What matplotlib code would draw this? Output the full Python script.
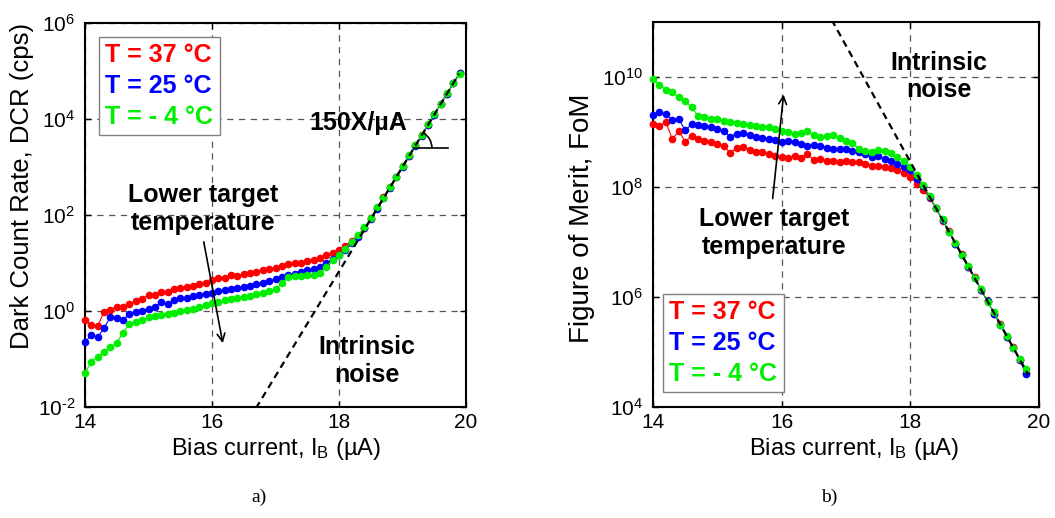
import numpy as np
import matplotlib
matplotlib.use("Agg")
import matplotlib.pyplot as plt
from matplotlib.lines import Line2D
from matplotlib.patches import Arc
from matplotlib.ticker import FuncFormatter, NullLocator
from matplotlib.transforms import ScaledTranslation

plt.rcParams["font.family"] = ["Liberation Sans", "DejaVu Sans"]
plt.rcParams["mathtext.fontset"] = "custom"
plt.rcParams["mathtext.rm"] = "Liberation Sans"
plt.rcParams["mathtext.it"] = "Liberation Sans:italic"
plt.rcParams["mathtext.bf"] = "Liberation Sans:bold"
plt.rcParams["axes.unicode_minus"] = False
plt.rcParams["lines.scale_dashes"] = False

# ---- data -------------------------------------------------------------
labels = ["T = 37 °C", "T = 25 °C", "T = - 4 °C"]
colors = ["#ff0000", "#0000ff", "#00ee00"]

# bias sweep (uA)
bias_dcr = np.round(np.arange(14.0, 19.95, 0.1), 2)
bias_fom = np.round(np.arange(14.0, 19.85, 0.1), 2)

# log10 of dark count rate (cps)
dcr_log_37 = [-0.19, -0.30, -0.31, -0.02, 0.03, 0.08, 0.09, 0.14, 0.21, 0.26,
              0.33, 0.34, 0.39, 0.40, 0.45, 0.47, 0.51, 0.53, 0.57, 0.59,
              0.64, 0.68, 0.69, 0.74, 0.72, 0.77, 0.80, 0.82, 0.86, 0.87,
              0.90, 0.93, 0.97, 0.99, 1.01, 1.05, 1.07, 1.11, 1.16, 1.21,
              1.27, 1.35, 1.45, 1.57, 1.73, 1.93, 2.15, 2.37, 2.58, 2.80,
              3.02, 3.23, 3.45, 3.67, 3.88, 4.10, 4.32, 4.53, 4.75, 4.96]
dcr_log_25 = [-0.65, -0.50, -0.55, -0.35, -0.13, -0.15, -0.19, -0.06, -0.02, 0.01,
              0.05, 0.08, 0.18, 0.15, 0.22, 0.27, 0.28, 0.31, 0.33, 0.36,
              0.38, 0.41, 0.44, 0.46, 0.48, 0.51, 0.53, 0.57, 0.59, 0.62,
              0.66, 0.70, 0.74, 0.78, 0.81, 0.85, 0.88, 0.92, 1.00, 1.08,
              1.16, 1.28, 1.41, 1.55, 1.72, 1.92, 2.13, 2.35, 2.57, 2.79,
              3.00, 3.22, 3.44, 3.65, 3.87, 4.09, 4.31, 4.52, 4.74, 4.95]
dcr_log_m4 = [-1.29, -1.06, -0.95, -0.85, -0.76, -0.66, -0.45, -0.27, -0.23, -0.19,
              -0.13, -0.11, -0.08, -0.06, -0.04, 0.00, 0.02, 0.05, 0.09, 0.12,
              0.17, 0.19, 0.22, 0.24, 0.27, 0.29, 0.32, 0.35, 0.38, 0.41,
              0.45, 0.58, 0.70, 0.72, 0.73, 0.74, 0.76, 0.79, 0.92, 1.06,
              1.17, 1.30, 1.44, 1.58, 1.74, 1.94, 2.16, 2.36, 2.59, 2.80,
              3.02, 3.24, 3.45, 3.66, 3.89, 4.10, 4.31, 4.54, 4.74, 4.93]

# log10 of figure of merit
fom_log_37 = [9.14, 9.11, 9.18, 8.87, 9.02, 8.82, 8.93, 8.87, 8.84, 8.82,
              8.78, 8.74, 8.62, 8.71, 8.73, 8.67, 8.64, 8.63, 8.60, 8.57,
              8.55, 8.53, 8.57, 8.52, 8.60, 8.49, 8.51, 8.47, 8.48, 8.46,
              8.48, 8.45, 8.46, 8.42, 8.39, 8.39, 8.37, 8.34, 8.30, 8.26,
              8.19, 8.06, 7.94, 7.80, 7.61, 7.39, 7.20, 6.97, 6.78, 6.55,
              6.36, 6.12, 5.93, 5.70, 5.51, 5.28, 5.09, 4.85, 4.62]
fom_log_25 = [9.30, 9.36, 9.32, 9.22, 9.24, 9.03, 9.14, 9.13, 9.11, 9.09,
              9.05, 9.02, 8.91, 8.97, 8.99, 8.95, 8.91, 8.90, 8.87, 8.85,
              8.82, 8.83, 8.82, 8.78, 8.75, 8.77, 8.75, 8.71, 8.69, 8.70,
              8.69, 8.66, 8.64, 8.60, 8.55, 8.56, 8.51, 8.47, 8.42, 8.37,
              8.30, 8.15, 8.01, 7.82, 7.62, 7.40, 7.19, 6.97, 6.77, 6.55,
              6.35, 6.13, 5.92, 5.70, 5.50, 5.28, 5.08, 4.86, 4.60]
fom_log_m4 = [9.97, 9.86, 9.77, 9.72, 9.63, 9.56, 9.45, 9.29, 9.27, 9.24,
              9.23, 9.20, 9.18, 9.17, 9.14, 9.13, 9.11, 9.10, 9.09, 9.05,
              9.02, 9.00, 8.96, 8.99, 9.01, 8.94, 8.91, 8.93, 8.95, 8.89,
              8.84, 8.80, 8.69, 8.66, 8.64, 8.68, 8.66, 8.61, 8.55, 8.47,
              8.37, 8.21, 8.03, 7.84, 7.61, 7.41, 7.18, 6.99, 6.76, 6.57,
              6.34, 6.14, 5.91, 5.72, 5.49, 5.30, 5.07, 4.88, 4.70]

# intrinsic-noise asymptotes
intrinsic_dcr_bias = [16.5, 19.89]
intrinsic_dcr = [3.6e-3, 8.7e4]
intrinsic_fom_bias = [16.6, 19.83]
intrinsic_fom = [2.6e11, 3.9e4]

dcr_series = [dcr_log_37, dcr_log_25, dcr_log_m4]
fom_series = [fom_log_37, fom_log_25, fom_log_m4]

# ---- figure -----------------------------------------------------------
W, H = 1055, 518
fig = plt.figure(figsize=(W / 100, H / 100), dpi=100)
axL = fig.add_axes([85 / W, 111 / H, 381 / W, 384 / H])
axR = fig.add_axes([653 / W, 111 / H, 386 / W, 385 / H])

TICK_FS = 15
LABEL_FS = 17
BOLD_FS = 18


def decade_label(v, pos):
    e = int(round(np.log10(v)))
    return "$\\mathregular{10^{\\text{%d}}}$" % e


def style_axes(ax, ylim, yticks):
    ax.set_yscale("log")
    ax.set_xlim(14, 20)
    ax.set_ylim(*ylim)
    ax.set_xticks([14, 16, 18, 20])
    ax.set_yticks(yticks)
    ax.yaxis.set_major_formatter(FuncFormatter(decade_label))
    ax.yaxis.set_minor_locator(NullLocator())
    ax.tick_params(direction="in", length=4, width=1, top=True, right=True,
                   labelsize=TICK_FS)
    ax.tick_params(axis="x", pad=4)
    ax.tick_params(axis="y", pad=7)
    for s in ax.spines.values():
        s.set_linewidth(1.5)
    ax.grid(True, which="major", color="#555555", linewidth=0.9,
            linestyle=(0, (4.5, 4.0)))
    ax.set_axisbelow(True)


def draw_series(ax, bias, series):
    for vals, c in zip(series, colors):
        ax.plot(bias[:len(vals)], 10.0 ** np.asarray(vals), color=c, lw=0.8,
                marker="o", ms=5.5, mew=0, clip_on=False, zorder=3)


def add_legend(ax, **kw):
    handles = [Line2D([], [], linestyle="none") for _ in labels]
    leg = ax.legend(handles, labels, handlelength=0, handletextpad=0,
                    borderaxespad=0, fancybox=False, framealpha=1,
                    edgecolor="#808080", labelcolor=colors,
                    prop={"weight": "bold", "size": BOLD_FS},
                    labelspacing=0.27, borderpad=0.25, **kw)
    leg.get_frame().set_linewidth(1.0)
    leg.set_zorder(6)


# ---- (a) dark count rate ----------------------------------------------
style_axes(axL, (1e-2, 1e6), [1e-2, 1e0, 1e2, 1e4, 1e6])
draw_series(axL, bias_dcr, dcr_series)
axL.plot(intrinsic_dcr_bias, intrinsic_dcr, color="black", lw=1.6,
         linestyle=(0, (5, 3.5)), zorder=4)
axL.set_xlabel("Bias current, I$_\\mathregular{B}$ (µA)", fontsize=LABEL_FS)
axL.set_ylabel("Dark Count Rate, DCR (cps)", fontsize=18.5)
axL.xaxis.set_label_coords(0.5, -0.075)
axL.yaxis.set_label_coords(-0.135, 0.575)
add_legend(axL, loc="upper left", bbox_to_anchor=(0.037, 0.964))

axL.text(15.86, 10 ** 2.13, "Lower target\ntemperature", ha="center",
         va="center", fontsize=BOLD_FS, fontweight="bold", linespacing=1.2)
axL.annotate("", xy=(16.17, 10 ** -0.67), xytext=(15.87, 10 ** 1.44),
             arrowprops=dict(arrowstyle="->", lw=1.2, color="black",
                             mutation_scale=14, shrinkA=0, shrinkB=0))
axL.text(18.44, 10 ** -1.04, "Intrinsic\nnoise", ha="center", va="center",
         fontsize=BOLD_FS, fontweight="bold", linespacing=1.2)
axL.text(18.31, 10 ** 3.92, "150X/µA", ha="center", va="center",
         fontsize=BOLD_FS, fontweight="bold", zorder=5)

# slope marker on the intrinsic asymptote
anchor_bias = 19.18
anchor_val = 10 ** np.interp(anchor_bias, intrinsic_dcr_bias, np.log10(intrinsic_dcr))
axL.plot([anchor_bias, 19.72], [anchor_val, anchor_val], color="black", lw=1.2,
         zorder=4)
p0 = axL.transData.transform((intrinsic_dcr_bias[0], intrinsic_dcr[0]))
p1 = axL.transData.transform((intrinsic_dcr_bias[1], intrinsic_dcr[1]))
ang = np.degrees(np.arctan2(p1[1] - p0[1], p1[0] - p0[0]))
arc_tr = fig.dpi_scale_trans + ScaledTranslation(anchor_bias, anchor_val, axL.transData)
axL.add_patch(Arc((0, 0), 0.36, 0.36, theta1=0, theta2=ang, transform=arc_tr,
                  color="black", lw=1.2, zorder=4))

# ---- (b) figure of merit ----------------------------------------------
style_axes(axR, (1e4, 1e11), [1e4, 1e6, 1e8, 1e10])
draw_series(axR, bias_fom, fom_series)
axR.plot(intrinsic_fom_bias, intrinsic_fom, color="black", lw=1.6,
         linestyle=(0, (5, 3.5)), zorder=4)
axR.set_xlabel("Bias current, I$_\\mathregular{B}$ (µA)", fontsize=LABEL_FS)
axR.set_ylabel("Figure of Merit, FoM", fontsize=20)
axR.xaxis.set_label_coords(0.52, -0.075)
axR.yaxis.set_label_coords(-0.15, 0.49)
add_legend(axR, loc="lower left", bbox_to_anchor=(0.026, 0.039))

axR.text(18.45, 10 ** 10.01, "Intrinsic\nnoise", ha="center", va="center",
         fontsize=BOLD_FS, fontweight="bold", linespacing=1.2)
axR.text(15.875, 10 ** 7.16, "Lower target\ntemperature", ha="center",
         va="center", fontsize=BOLD_FS, fontweight="bold", linespacing=1.2)
axR.annotate("", xy=(16.03, 10 ** 9.68), xytext=(15.86, 10 ** 7.79),
             arrowprops=dict(arrowstyle="->", lw=1.2, color="black",
                             mutation_scale=14, shrinkA=0, shrinkB=0))

# panel captions
fig.text(259 / W, 1 - 497 / H, "a)", ha="center", va="center", fontsize=14,
         family="Liberation Serif")
fig.text(829 / W, 1 - 497 / H, "b)", ha="center", va="center", fontsize=14,
         family="Liberation Serif")

fig.savefig("out.png", dpi=100)
